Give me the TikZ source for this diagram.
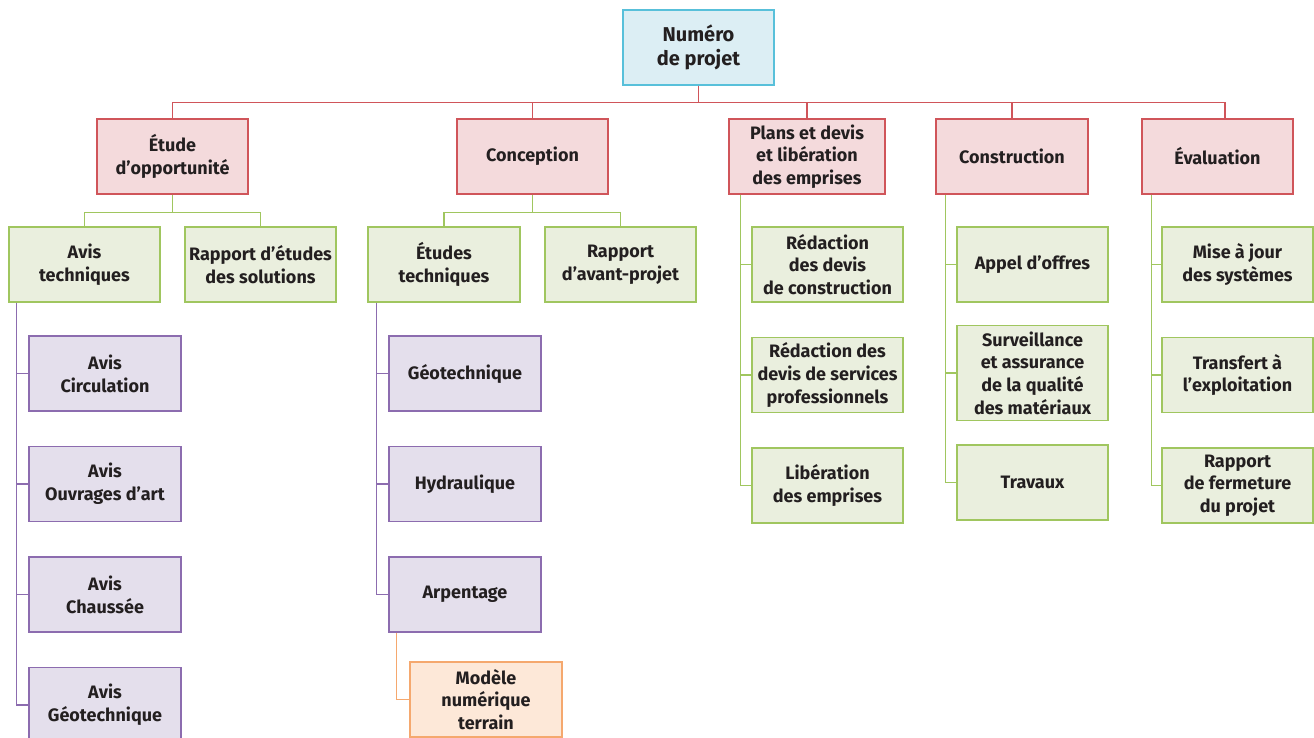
\documentclass[tikz,border=0pt]{standalone}
\usepackage{fontspec}
\setmainfont{Fira Sans}
\usepackage{tikz}
\usetikzlibrary{
  positioning
}
\definecolor{wbsText}{RGB}{35,31,32}
\definecolor{wbsCyan}{RGB}{88,192,218}
\definecolor{wbsCyanFill}{RGB}{220,238,244}
\definecolor{wbsRed}{RGB}{208,85,90}
\definecolor{wbsRedFill}{RGB}{244,218,220}
\definecolor{wbsGreen}{RGB}{160,198,95}
\definecolor{wbsGreenFill}{RGB}{234,239,222}
\definecolor{wbsPurple}{RGB}{140,108,175}
\definecolor{wbsPurpleFill}{RGB}{228,223,236}
\definecolor{wbsOrange}{RGB}{245,168,110}
\definecolor{wbsOrangeFill}{RGB}{253,232,216}
\tikzset{
  wbsBox/.style={
    rectangle,
    line width=1.5pt,
    minimum width=151pt,
    minimum height=75pt,
    inner sep=2pt,
    align=center,
    text=wbsText,
    font=\fontsize{18}{22.7}\selectfont\bfseries
  },
  wbsRoot/.style={
    wbsBox,
    draw=wbsCyan,
    fill=wbsCyanFill,
    font=\fontsize{20}{23.5}\selectfont\bfseries
  },
  wbsPhase/.style={
    wbsBox,
    draw=wbsRed,
    fill=wbsRedFill
  },
  wbsTask/.style={
    wbsBox,
    draw=wbsGreen,
    fill=wbsGreenFill
  },
  wbsSub/.style={
    wbsBox,
    draw=wbsPurple,
    fill=wbsPurpleFill
  },
  wbsDetail/.style={
    wbsBox,
    draw=wbsOrange,
    fill=wbsOrangeFill
  },
  wbsRedLine/.style={line width=1.3pt, draw=wbsRed},
  wbsGreenLine/.style={line width=1.3pt, draw=wbsGreen},
  wbsPurpleLine/.style={line width=1.3pt, draw=wbsPurple},
  wbsOrangeLine/.style={line width=1.3pt, draw=wbsOrange}
}

\begin{document}
\begin{tikzpicture}[x=1pt, y=-1pt, node distance=34pt]
  \useasboundingbox (0,0) rectangle (1314,737);

  \node[wbsRoot] (projet) at (698.5,47.5) {Numéro\\de projet};

  % phases
  \node[wbsPhase] (opport) at (172.5,156.5) {Étude\\d’opportunité};
  \node[wbsPhase] (concept) at (532.5,156.5) {Conception};
  \node[wbsPhase, minimum width=156pt]
    (plans) at (807,156.5) {Plans et devis\\et libération\\des emprises};
  \node[wbsPhase, minimum width=152pt]
    (constr) at (1012,156.5) {Construction};
  \node[wbsPhase] (evalu) at (1217.5,156.5) {Évaluation};

  % Étude d'opportunité and Conception
  \node[wbsTask] (avistech) at (84.5,264.5) {Avis\\techniques};
  \node[wbsTask] (rapetudes) at (260.5,264.5) {Rapport d’études\\des solutions};
  \node[wbsTask, minimum width=152pt]
    (etutech) at (444,264.5) {Études\\techniques};
  \node[wbsTask] (avantproj) at (620.5,264.5) {Rapport\\d’avant-projet};

  \node[wbsSub, minimum width=152pt] (circ) at (105,373.5) {Avis\\Circulation};
  \node[wbsSub, minimum width=152pt, below=of circ]
    (ouvrages) {Avis\\Ouvrages d’art};
  \node[wbsSub, minimum width=152pt, below=of ouvrages]
    (chaussee) {Avis\\Chaussée};
  \node[wbsSub, minimum width=152pt, below=of chaussee]
    (geoavis) {Avis\\Géotechnique};

  \node[wbsSub, minimum width=152pt] (geotech) at (465,373.5) {Géotechnique};
  \node[wbsSub, minimum width=152pt, below=of geotech]
    (hydrau) {Hydraulique};
  \node[wbsSub, minimum width=152pt, below=of hydrau]
    (arpent) {Arpentage};
  \node[wbsDetail, minimum width=152pt]
    (mnt) at (486,699.5) {Modèle\\numérique\\terrain};

  % Plans et devis, Construction, Évaluation
  \node[wbsTask] (redconst) at (827.5,264.5) {Rédaction\\des devis\\de construction};
  \node[wbsTask, below=of redconst]
    (redserv) {Rédaction des\\devis de services\\professionnels};
  \node[wbsTask, below=of redserv] (liber) {Libération\\des emprises};

  \node[wbsTask] (appel) at (1032.5,264.5) {Appel d’offres};
  \node[wbsTask, minimum height=95pt]
    (surv) at (1032.5,373) {Surveillance\\et assurance\\de la qualité\\des matériaux};
  \node[wbsTask] (travaux) at (1032.5,482.5) {Travaux};

  \node[wbsTask] (majsys) at (1237.5,264.5) {Mise à jour\\des systèmes};
  \node[wbsTask, below=of majsys] (transf) {Transfert à\\l’exploitation};
  \node[wbsTask, below=of transf] (fermet) {Rapport\\de fermeture\\du projet};

  % links
  \draw[wbsRedLine] (projet.south) -- ++(0,17) -| (opport.north);
  \draw[wbsRedLine] (projet.south) -- ++(0,17) -| (concept.north);
  \draw[wbsRedLine] (projet.south) -- ++(0,17) -| (plans.north);
  \draw[wbsRedLine] (projet.south) -- ++(0,17) -| (constr.north);
  \draw[wbsRedLine] (projet.south) -- ++(0,17) -| ([xshift=7.5pt]evalu.north);

  \draw[wbsGreenLine] (opport.south) -- ++(0,18) -| (avistech.north);
  \draw[wbsGreenLine] (opport.south) -- ++(0,18) -| (rapetudes.north);
  \draw[wbsGreenLine] (concept.south) -- ++(0,18) -| (etutech.north);
  \draw[wbsGreenLine] (concept.south) -- ++(0,18) -| (avantproj.north);

  \draw[wbsPurpleLine] ([xshift=8pt]avistech.south west) |- (circ.west);
  \draw[wbsPurpleLine] ([xshift=8pt]avistech.south west) |- (ouvrages.west);
  \draw[wbsPurpleLine] ([xshift=8pt]avistech.south west) |- (chaussee.west);
  \draw[wbsPurpleLine] ([xshift=8pt]avistech.south west) |- (geoavis.west);

  \draw[wbsPurpleLine] ([xshift=9pt]etutech.south west) |- (geotech.west);
  \draw[wbsPurpleLine] ([xshift=9pt]etutech.south west) |- (hydrau.west);
  \draw[wbsPurpleLine] ([xshift=9pt]etutech.south west) |- (arpent.west);
  \draw[wbsOrangeLine] ([xshift=8pt]arpent.south west) |- (mnt.west);

  \draw[wbsGreenLine] ([xshift=12pt]plans.south west) |- (redconst.west);
  \draw[wbsGreenLine] ([xshift=12pt]plans.south west) |- (redserv.west);
  \draw[wbsGreenLine] ([xshift=12pt]plans.south west) |- (liber.west);

  \draw[wbsGreenLine] ([xshift=10.5pt]constr.south west) |- (appel.west);
  \draw[wbsGreenLine] ([xshift=10.5pt]constr.south west) |- (surv.west);
  \draw[wbsGreenLine] ([xshift=10.5pt]constr.south west) |- (travaux.west);

  \draw[wbsGreenLine] ([xshift=10pt]evalu.south west) |- (majsys.west);
  \draw[wbsGreenLine] ([xshift=10pt]evalu.south west) |- (transf.west);
  \draw[wbsGreenLine] ([xshift=10pt]evalu.south west) |- (fermet.west);
\end{tikzpicture}
\end{document}
